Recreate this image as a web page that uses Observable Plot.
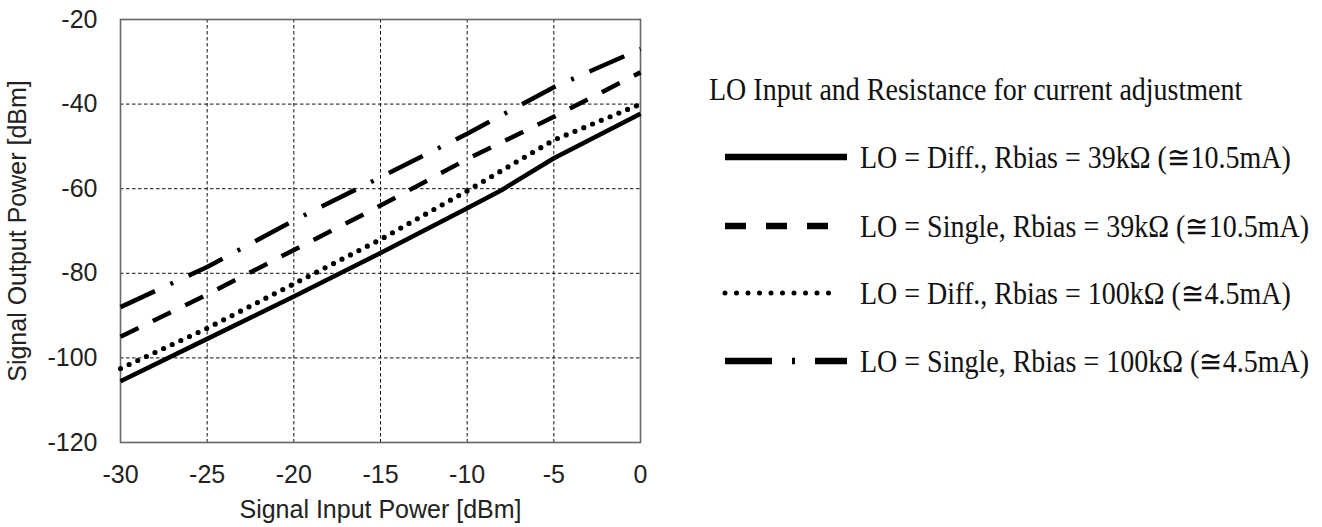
<!DOCTYPE html>
<html><head><meta charset="utf-8">
<script src="https://cdn.jsdelivr.net/npm/d3@7"></script>
<script src="https://cdn.jsdelivr.net/npm/@observablehq/plot@0.6"></script>
<style>
body{margin:0;background:#fff;width:1322px;height:527px;overflow:hidden;position:relative}
#chart{position:absolute;left:0;top:0}
#legend{position:absolute;left:0;top:0}
</style></head><body>
<div id="chart"></div>
<div id="legend"></div>
<script>
// ---- data ----
const xTicks = [-30, -25, -20, -15, -10, -5, 0];
const yTicks = [-120, -100, -80, -60, -40, -20];
const inputDiff39 = [-30, -25, -20, -15, -10, -8, -5, 0];
const outputDiff39 = [-105.5, -95.5, -85.5, -75.2, -64.6, -60.3, -52.8, -42.3];
const inputPower = [-30, -25, -20, -15, -10, -5, 0];
const outputSingle39 = [-95, -85, -74.5, -64, -53, -43, -32.5];
const outputDiff100 = [-102.5, -93, -82.5, -72, -60.5, -48.5, -40];
const outputSingle100 = [-88, -78.5, -67.5, -57.3, -47, -36, -27];
const seriesNames = [
  "LO = Diff., Rbias = 39k\u03A9 (\u224510.5mA)",
  "LO = Single, Rbias = 39k\u03A9 (\u224510.5mA)",
  "LO = Diff., Rbias = 100k\u03A9 (\u22454.5mA)",
  "LO = Single, Rbias = 100k\u03A9 (\u22454.5mA)"
];
const legendTitle = "LO Input and Resistance for current adjustment";
const xLabel = "Signal Input Power [dBm]";
const yLabel = "Signal Output Power [dBm]";

// ---- styles ----
const styles = [
  {dash: null, cap: "butt", lDash: null, w: 4.5},
  {dash: "20,16", cap: "butt", lDash: "21,20", w: 4.5},
  {dash: "0,9.5", cap: "round", lDash: "0,11.5", w: 5.2},
  {dash: "38,17,3,17", cap: "butt", lDash: "47,20,3,20,32", w: 4.5}
];
const series = [
  [inputDiff39, outputDiff39],
  [inputPower, outputSingle39],
  [inputPower, outputDiff100],
  [inputPower, outputSingle100]
];

const lineMarks = series.map(([xs, ys], i) => Plot.line(
  xs.map((x, j) => ({x, y: ys[j]})),
  {x: "x", y: "y", stroke: "#000", strokeWidth: styles[i].w,
   strokeDasharray: styles[i].dash, strokeLinecap: styles[i].cap}
));

const chart = Plot.plot({
  width: 680, height: 527,
  marginLeft: 120, marginRight: 40, marginTop: 19, marginBottom: 85,
  style: {fontFamily: "'Liberation Sans', Arial, sans-serif", fontSize: "25px", color: "#222", background: "white", overflow: "visible"},
  x: {domain: [-30, 0], ticks: xTicks, tickSize: 0, tickPadding: 23, label: null, tickFormat: d => String(d)},
  y: {domain: [-120, -20], ticks: yTicks, tickSize: 0, tickPadding: 23, label: null, tickFormat: d => String(d)},
  marks: [
    Plot.ruleX(xTicks.slice(1, -1), {stroke: "#111", strokeWidth: 1, strokeDasharray: "3.5,2.5"}),
    Plot.ruleY(yTicks.slice(1, -1), {stroke: "#111", strokeWidth: 1, strokeDasharray: "3.5,2.5"}),
    Plot.frame({stroke: "#666", strokeWidth: 1.6}),
    ...lineMarks,
    Plot.text([xLabel], {frameAnchor: "bottom", dy: 75, fontSize: 25, fill: "#222"}),
    Plot.text([yLabel], {frameAnchor: "left", dx: -103, rotate: -90, textAnchor: "middle", lineAnchor: "middle", fontSize: 25, fill: "#222"})
  ]
});
document.getElementById("chart").appendChild(chart);

// ---- legend ----
const svg = d3.select("#legend").append("svg")
  .attr("width", 1322).attr("height", 527)
  .style("font-family", "'Liberation Serif', 'Times New Roman', serif")
  .style("font-size", "28px");
svg.append("text").attr("transform", "translate(709,89) scale(1,1.12)").attr("dy", "0.35em")
  .attr("fill", "#111").text(legendTitle);
const rowY = [157, 226, 293, 361];
seriesNames.forEach((name, i) => {
  const y = rowY[i];
  const isDot = i === 2;
  svg.append("line")
    .attr("x1", 725).attr("x2", isDot ? 840 : 847)
    .attr("y1", y).attr("y2", y)
    .attr("stroke", "#000").attr("stroke-width", isDot ? 5 : 6.5)
    .attr("stroke-linecap", styles[i].cap)
    .attr("stroke-dasharray", styles[i].lDash);
  svg.append("text").attr("transform", `translate(860,${y}) scale(1,1.12)`).attr("dy", "0.35em")
    .attr("fill", "#111").text(name);
});
</script>
</body></html>
